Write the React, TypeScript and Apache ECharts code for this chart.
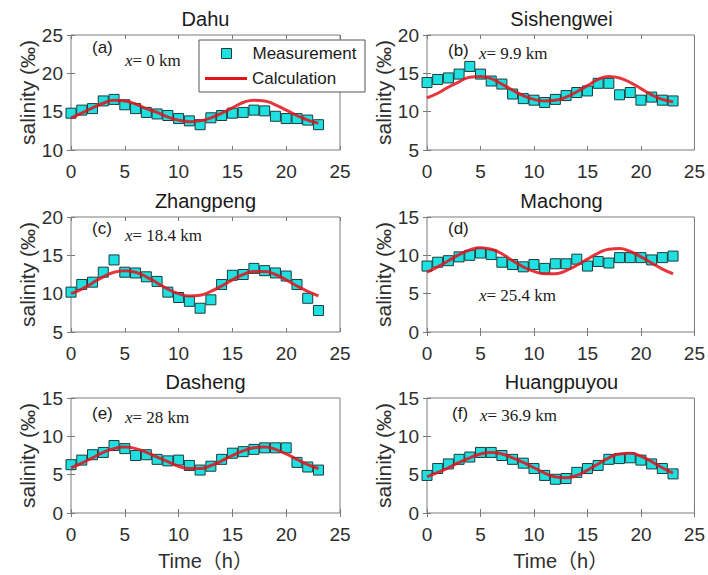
import { useEffect, useRef } from 'react';
import * as echarts from 'echarts';

const hours = [0, 1, 2, 3, 4, 5, 6, 7, 8, 9, 10, 11, 12, 13, 14, 15, 16, 17, 18, 19, 20, 21, 22, 23];
const xTicks = { min: 0, max: 25, interval: 5 };

const stations = ['Dahu', 'Sishengwei', 'Zhangpeng', 'Machong', 'Dasheng', 'Huangpuyou'];
const panelLetters = ['(a)', '(b)', '(c)', '(d)', '(e)', '(f)'];
const distances = ['0', '9.9', '18.4', '25.4', '28', '36.9'];
const yMins = [10, 5, 5, 0, 0, 0];
const yMaxs = [25, 20, 20, 15, 15, 15];
const yInterval = 5;

const dahuMeas = [14.8, 15.2, 15.4, 16.4, 16.6, 15.9, 15.4, 14.9, 14.7, 14.5, 14.1, 13.8, 13.3, 14.2, 14.5, 14.8, 14.9, 15.2, 15.1, 14.4, 14.1, 14.1, 13.9, 13.3];
const dahuCalc = [14.2, 14.8, 15.5, 16.1, 16.5, 16.4, 16.0, 15.4, 14.9, 14.3, 13.9, 13.7, 13.8, 14.2, 14.8, 15.5, 16.2, 16.5, 16.4, 15.9, 15.2, 14.5, 13.9, 13.5];
const sishengweiMeas = [13.8, 14.2, 14.4, 14.9, 15.9, 14.9, 14.0, 13.6, 12.3, 11.7, 11.5, 11.2, 11.6, 12.1, 12.5, 12.7, 13.7, 13.7, 12.2, 12.5, 11.5, 11.9, 11.5, 11.4];
const sishengweiCalc = [11.8, 12.4, 13.2, 13.9, 14.5, 14.6, 14.3, 13.6, 12.8, 12.1, 11.6, 11.4, 11.5, 11.9, 12.6, 13.4, 14.2, 14.6, 14.4, 13.8, 13.0, 12.2, 11.6, 11.3];
const zhangpengMeas = [10.2, 11.2, 11.5, 12.8, 14.4, 12.8, 12.7, 12.2, 11.6, 10.2, 9.5, 9.0, 8.1, 9.2, 11.2, 12.4, 12.5, 13.3, 13.0, 12.7, 12.3, 11.2, 9.4, 7.8];
const zhangpengCalc = [10.0, 10.6, 11.4, 12.2, 12.8, 13.0, 12.8, 12.2, 11.4, 10.6, 10.0, 9.7, 9.8, 10.3, 11.0, 11.8, 12.5, 12.9, 12.9, 12.5, 11.8, 11.0, 10.3, 9.7];
const machongMeas = [8.6, 9.1, 9.3, 9.8, 10.0, 10.3, 10.1, 9.1, 8.8, 8.5, 8.8, 8.3, 8.9, 8.9, 9.5, 8.6, 9.2, 9.0, 9.7, 9.7, 9.7, 9.4, 9.7, 9.9];
const machongCalc = [7.8, 8.5, 9.3, 10.1, 10.7, 11.0, 10.8, 10.2, 9.3, 8.5, 7.9, 7.6, 7.6, 8.0, 8.7, 9.5, 10.3, 10.8, 10.9, 10.5, 9.8, 9.0, 8.2, 7.6];
const dashengMeas = [6.3, 6.9, 7.6, 7.9, 8.8, 8.4, 7.5, 7.6, 7.0, 6.8, 6.9, 6.2, 5.6, 6.1, 7.0, 7.8, 8.0, 8.3, 8.5, 8.5, 8.5, 6.6, 6.0, 5.6];
const dashengCalc = [5.9, 6.5, 7.2, 7.9, 8.4, 8.6, 8.4, 7.9, 7.3, 6.7, 6.1, 5.8, 5.8, 6.2, 6.8, 7.5, 8.1, 8.5, 8.6, 8.3, 7.7, 7.0, 6.3, 5.8];
const huangpuyouMeas = [4.9, 5.8, 6.4, 7.0, 7.3, 7.9, 7.9, 7.5, 7.0, 6.5, 5.8, 4.9, 4.4, 4.5, 5.3, 5.8, 6.2, 7.0, 7.1, 7.2, 6.9, 6.4, 5.8, 5.1];
const huangpuyouCalc = [4.7, 5.3, 5.9, 6.6, 7.2, 7.7, 7.9, 7.7, 7.2, 6.6, 5.9, 5.2, 4.7, 4.6, 4.9, 5.6, 6.4, 7.2, 7.7, 7.8, 7.4, 6.7, 5.9, 5.2];

const measurements = [dahuMeas, sishengweiMeas, zhangpengMeas, machongMeas, dashengMeas, huangpuyouMeas];
const calculations = [dahuCalc, sishengweiCalc, zhangpengCalc, machongCalc, dashengCalc, huangpuyouCalc];

// layout (pixels)
const gridLefts = [71, 427];
const gridTops = [35, 217, 398];
const gridW = 269;
const gridH = 115;
const letterPos = [[92, 47], [448, 50], [92, 228], [448, 228], [92, 413], [452, 413]];
const distPos = [[125, 60], [479, 53], [125, 235], [479, 295], [125, 417], [480, 415]];

const SANS = 'Liberation Sans, Arial, Helvetica, sans-serif';
const SERIF = 'Liberation Serif, Times New Roman, serif';
const axisColor = '#7a7a7a';
const labelColor = '#2e2e2e';
const cyan = '#1fe0e0';
const red = '#e3121c';

function buildOption() {
  const grids: any[] = [];
  const xAxes: any[] = [];
  const yAxes: any[] = [];
  const series: any[] = [];
  const titles: any[] = [];
  const graphics: any[] = [];

  stations.forEach((name, i) => {
    const left = gridLefts[i % 2];
    const top = gridTops[Math.floor(i / 2)];
    grids.push({ left, top, width: gridW, height: gridH, show: true, borderColor: axisColor, borderWidth: 1, backgroundColor: '#fff' });
    const bottomRow = i >= 4;
    xAxes.push({
      type: 'value', gridIndex: i, position: 'bottom', ...xTicks,
      axisLine: { show: false },
      axisTick: { show: true, inside: true, length: 4, lineStyle: { color: axisColor } },
      axisLabel: { show: true, fontSize: 19, color: labelColor, fontFamily: SANS, margin: 12 },
      splitLine: { show: false },
      name: bottomRow ? 'Time（h）' : '',
      nameLocation: 'middle', nameGap: 38,
      nameTextStyle: { fontSize: 20, color: labelColor, fontFamily: 'Liberation Sans, Arial, Noto Sans CJK SC, sans-serif' },
    });
    xAxes.push({
      type: 'value', gridIndex: i, position: 'top', ...xTicks,
      axisLine: { show: false },
      axisTick: { show: true, inside: true, length: 4, lineStyle: { color: axisColor } },
      axisLabel: { show: false }, splitLine: { show: false },
    });
    yAxes.push({
      type: 'value', gridIndex: i, position: 'left', min: yMins[i], max: yMaxs[i], interval: yInterval,
      axisLine: { show: false },
      axisTick: { show: true, inside: true, length: 4, lineStyle: { color: axisColor } },
      axisLabel: { show: true, fontSize: 19, color: labelColor, fontFamily: SANS, margin: 8 },
      splitLine: { show: false },
      name: 'salinity (‰)', nameLocation: 'middle', nameGap: 33, nameRotate: 90,
      nameTextStyle: { fontSize: 21, color: labelColor, fontFamily: SANS },
    });
    yAxes.push({
      type: 'value', gridIndex: i, position: 'right', min: yMins[i], max: yMaxs[i], interval: yInterval,
      axisLine: { show: false },
      axisTick: { show: true, inside: true, length: 4, lineStyle: { color: axisColor } },
      axisLabel: { show: false }, splitLine: { show: false },
    });
    series.push({
      type: 'scatter', name: 'Measurement', xAxisIndex: 2 * i, yAxisIndex: 2 * i,
      data: hours.map((h, k) => [h, measurements[i][k]]),
      symbol: 'rect', symbolSize: 10,
      itemStyle: { color: cyan, borderColor: '#1c3c3c', borderWidth: 1, opacity: 1 }, z: 2,
    });
    series.push({
      type: 'line', name: 'Calculation', xAxisIndex: 2 * i, yAxisIndex: 2 * i,
      data: hours.map((h, k) => [h, calculations[i][k]]),
      smooth: true, symbol: 'none', showSymbol: false,
      lineStyle: { color: red, width: 3, opacity: 0.85 }, itemStyle: { color: red }, z: 3,
    });
    titles.push({
      text: name, left: left + gridW / 2, top: top - 26, textAlign: 'center', padding: 0,
      textStyle: { fontSize: 20, fontWeight: 'normal', color: '#1a1a1a', fontFamily: SANS },
    });
    graphics.push({
      type: 'text', x: letterPos[i][0], y: letterPos[i][1], z: 5,
      style: { text: panelLetters[i], fontSize: 17, fontFamily: SANS, fill: '#1a1a1a', verticalAlign: 'middle' },
    });
    graphics.push({
      type: 'text', x: distPos[i][0], y: distPos[i][1], z: 5,
      style: {
        text: '{i|x}= ' + distances[i] + ' km', fontSize: 17, fontFamily: SERIF, fill: '#1a1a1a', verticalAlign: 'middle',
        rich: { i: { fontStyle: 'italic', fontFamily: SERIF, fontSize: 17, fill: '#1a1a1a' } },
      },
    });
  });

  graphics.push({
    type: 'rect', z: 10,
    shape: { x: 199, y: 40, width: 166, height: 52 },
    style: { fill: '#fff', stroke: '#555', lineWidth: 1 },
  });

  return {
    animation: false,
    backgroundColor: '#fff',
    title: titles,
    grid: grids,
    xAxis: xAxes,
    yAxis: yAxes,
    series,
    graphic: graphics,
    legend: [
      {
        data: [{ name: 'Measurement', icon: 'rect' }], left: 221, top: 45, orient: 'vertical',
        itemWidth: 10, itemHeight: 10, padding: 0, selectedMode: false, z: 20,
        itemStyle: { color: cyan, borderColor: '#1c3c3c', borderWidth: 1 },
        textStyle: { fontSize: 17, color: '#1a1a1a', fontFamily: SANS, padding: [0, 0, 0, 16] },
      },
      {
        data: [{ name: 'Calculation', icon: 'rect' }], left: 205, top: 70, orient: 'vertical',
        itemWidth: 42, itemHeight: 3, padding: 0, selectedMode: false, z: 20,
        itemStyle: { color: red },
        textStyle: { fontSize: 17, color: '#1a1a1a', fontFamily: SANS },
      },
    ],
  };
}

export default function App() {
  const ref = useRef<HTMLDivElement>(null);
  useEffect(() => {
    const chart = echarts.init(ref.current!, null, { renderer: 'svg' });
    chart.setOption(buildOption() as any);
    return () => chart.dispose();
  }, []);
  return <div ref={ref} style={{ position: 'absolute', left: 0, top: 0, width: 708, height: 575 }} />;
}
